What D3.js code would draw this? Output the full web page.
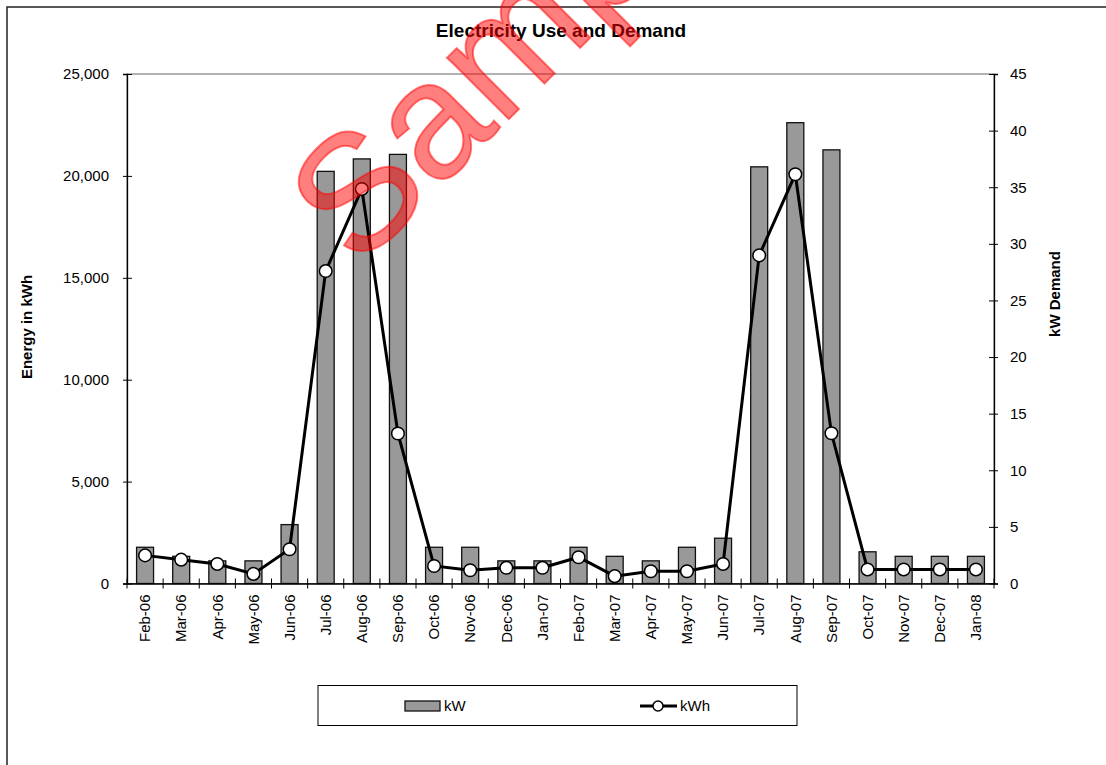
<!DOCTYPE html>
<html>
<head>
<meta charset="utf-8">
<script src="https://cdn.jsdelivr.net/npm/d3@7"></script>
<style>
  body { margin: 0; background: #fff; }
  text { font-family: Arial, "Liberation Sans", sans-serif; }
</style>
</head>
<body>
<div id="chart"></div>
<script>
// months on the x axis
const months = ["Feb-06", "Mar-06", "Apr-06", "May-06", "Jun-06", "Jul-06", "Aug-06", "Sep-06",
    "Oct-06", "Nov-06", "Dec-06", "Jan-07", "Feb-07", "Mar-07", "Apr-07", "May-07",
    "Jun-07", "Jul-07", "Aug-07", "Sep-07", "Oct-07", "Nov-07", "Dec-07", "Jan-08"];

// demand (bars, right axis)
const kW = [3.2, 2.4, 2.0, 2.0, 5.2, 36.4, 37.5, 37.9, 3.2, 3.2, 2.0, 2.0,
    3.2, 2.4, 2.0, 3.2, 4.0, 36.8, 40.7, 38.3, 2.8, 2.4, 2.4, 2.4];

// energy (line, left axis)
const kWh = [1380, 1170, 960, 470, 1680, 15330, 19360, 7360, 860, 650, 770, 770,
    1290, 360, 600, 600, 960, 16100, 20080, 7370, 690, 690, 690, 690];

const leftTicks = [0, 5000, 10000, 15000, 20000, 25000];
const rightTicks = [0, 5, 10, 15, 20, 25, 30, 35, 40, 45];

const width = 1106;
const height = 765;
const plot = { left: 127, right: 994, top: 74, bottom: 583.5 };

const svg = d3.select("#chart").append("svg")
    .attr("width", width)
    .attr("height", height);

// outer chart border (runs off the right and bottom edge)
svg.append("rect")
    .attr("x", 7).attr("y", 7)
    .attr("width", width + 20).attr("height", height + 20)
    .attr("fill", "none")
    .attr("stroke", "#222")
    .attr("stroke-width", 1.5);

const x = d3.scaleBand()
    .domain(months)
    .range([plot.left, plot.right])
    .padding(0);

const yLeft = d3.scaleLinear().domain([0, 25000]).range([plot.bottom, plot.top]);
const yRight = d3.scaleLinear().domain([0, 45]).range([plot.bottom, plot.top]);

// plot area frame
svg.append("rect")
    .attr("x", plot.left).attr("y", plot.top)
    .attr("width", plot.right - plot.left)
    .attr("height", plot.bottom - plot.top)
    .attr("fill", "none")
    .attr("stroke", "#666")
    .attr("stroke-width", 1);

// bars
const barW = x.bandwidth() * 0.47;
svg.append("g")
    .selectAll("rect")
    .data(kW)
    .join("rect")
    .attr("x", (d, i) => x(months[i]) + (x.bandwidth() - barW) / 2)
    .attr("y", d => yRight(d))
    .attr("width", barW)
    .attr("height", d => yRight(0) - yRight(d))
    .attr("fill", "#999999")
    .attr("stroke", "#111")
    .attr("stroke-width", 1.3);

// left axis
const axisL = svg.append("g")
    .attr("transform", `translate(${plot.left},0)`)
    .call(d3.axisLeft(yLeft).tickValues(leftTicks).tickFormat(d3.format(",")).tickSize(4).tickPadding(14));
axisL.selectAll(".tick line").attr("x2", 5).attr("x1", -4);

// right axis
const axisR = svg.append("g")
    .attr("transform", `translate(${plot.right},0)`)
    .call(d3.axisRight(yRight).tickValues(rightTicks).tickSize(4).tickPadding(12));
axisR.selectAll(".tick line").attr("x1", -5).attr("x2", 4);

// bottom axis, ticks sit between the months
const axisB = svg.append("g")
    .attr("transform", `translate(0,${plot.bottom})`)
    .call(d3.axisBottom(x).tickSize(0).tickPadding(0));
axisB.selectAll(".tick text")
    .attr("transform", "rotate(-90)")
    .attr("text-anchor", "end")
    .attr("x", -11)
    .attr("y", 0)
    .attr("dy", "0.35em");
axisB.append("g")
    .selectAll("line")
    .data(d3.range(months.length + 1))
    .join("line")
    .attr("x1", i => plot.left + i * x.step())
    .attr("x2", i => plot.left + i * x.step())
    .attr("y1", -5)
    .attr("y2", 5)
    .attr("stroke", "#000");

[axisL, axisR, axisB].forEach(a => {
    a.selectAll(".domain").attr("stroke", "#000").attr("stroke-width", 1.3);
    a.selectAll("line").attr("stroke", "#000");
    a.selectAll("text").attr("font-size", 15).attr("fill", "#000")
        .attr("font-family", "Arial, 'Liberation Sans', sans-serif");
});

// line
const line = d3.line()
    .x((d, i) => x(months[i]) + x.bandwidth() / 2)
    .y(d => yLeft(d));

svg.append("path")
    .datum(kWh)
    .attr("d", line)
    .attr("fill", "none")
    .attr("stroke", "#000")
    .attr("stroke-width", 3);

svg.append("g")
    .selectAll("circle")
    .data(kWh)
    .join("circle")
    .attr("cx", (d, i) => x(months[i]) + x.bandwidth() / 2)
    .attr("cy", d => yLeft(d))
    .attr("r", 6.3)
    .attr("fill", "#fff")
    .attr("stroke", "#000")
    .attr("stroke-width", 1.5);

// titles
svg.append("text")
    .attr("x", 561).attr("y", 37)
    .attr("text-anchor", "middle")
    .attr("font-size", 19).attr("font-weight", "bold")
    .text("Electricity Use and Demand");

svg.append("text")
    .attr("transform", "translate(32,327) rotate(-90)")
    .attr("text-anchor", "middle")
    .attr("font-size", 15).attr("font-weight", "bold")
    .text("Energy in kWh");

svg.append("text")
    .attr("transform", "translate(1060,294) rotate(-90)")
    .attr("text-anchor", "middle")
    .attr("font-size", 15).attr("font-weight", "bold")
    .text("kW Demand");

// legend
const legend = svg.append("g");
legend.append("rect")
    .attr("x", 318).attr("y", 685.5)
    .attr("width", 479).attr("height", 40)
    .attr("fill", "#fff")
    .attr("stroke", "#000")
    .attr("stroke-width", 1);
legend.append("rect")
    .attr("x", 405).attr("y", 701)
    .attr("width", 35).attr("height", 10)
    .attr("fill", "#999999")
    .attr("stroke", "#111")
    .attr("stroke-width", 1.3);
legend.append("text")
    .attr("x", 444).attr("y", 711)
    .attr("font-size", 15)
    .text("kW");
legend.append("line")
    .attr("x1", 640).attr("x2", 677)
    .attr("y1", 706).attr("y2", 706)
    .attr("stroke", "#000").attr("stroke-width", 3);
legend.append("circle")
    .attr("cx", 658).attr("cy", 706).attr("r", 5)
    .attr("fill", "#fff").attr("stroke", "#000").attr("stroke-width", 1.5);
legend.append("text")
    .attr("x", 680).attr("y", 711)
    .attr("font-size", 15)
    .text("kWh");

// watermark, cut off at the top edge as in the original
svg.append("text")
    .attr("transform", "translate(358,270) rotate(-45)")
    .attr("font-size", 165)
    .attr("fill", "red")
    .attr("fill-opacity", 0.5)
    .attr("stroke", "red")
    .attr("stroke-opacity", 0.5)
    .attr("stroke-width", 2)
    .text("Sample");
</script>
</body>
</html>
